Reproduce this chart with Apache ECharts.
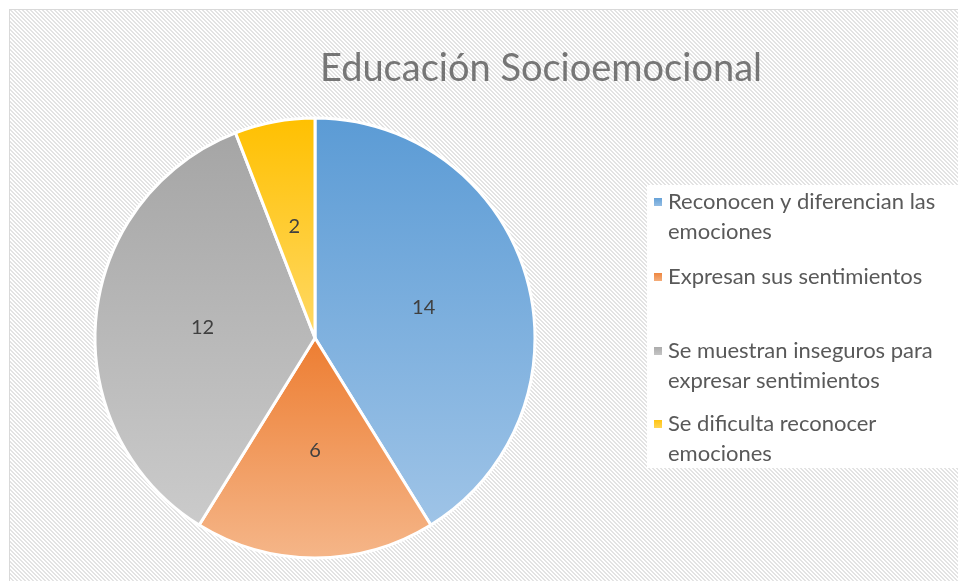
<!DOCTYPE html>
<html>
<head>
<meta charset="utf-8">
<script src="https://cdn.jsdelivr.net/npm/echarts@6/dist/echarts.min.js"></script>
<style>
  body{margin:0;background:#fff;}
  .hatch{position:absolute;left:9px;top:9px;width:960px;height:580px;border:1px solid #d9d9d9;}
  .legendBox{position:absolute;left:647px;top:185px;width:320px;height:283px;background:#fff;}
  #main{position:absolute;left:0;top:0;width:958px;height:581px;}
</style>
</head>
<body>
<div class="hatch" id="hatch"></div>
<div class="legendBox"></div>
<div id="main"></div>
<script>
// datos del gráfico
const titulo = 'Educación Socioemocional'
const categorias = [
  'Reconocen y diferencian las emociones',
  'Expresan sus sentimientos',
  'Se muestran inseguros para expresar sentimientos',
  'Se dificulta reconocer emociones'
]
const etiquetasLeyenda = [
  'Reconocen y diferencian las\nemociones',
  'Expresan sus sentimientos',
  'Se muestran inseguros para\nexpresar sentimientos',
  'Se dificulta reconocer\nemociones'
]
const valores = [14, 6, 12, 2]

// colores (arriba, abajo) de cada degradado
const colores = [
  ['#5b9bd5', '#9fc4e7'],
  ['#ed7d31', '#f5b689'],
  ['#a5a5a5', '#cbcbcb'],
  ['#ffc000', '#ffd966']
]
const leyendaCentroY = [202, 277, 351, 424]

const fuente = 'Lato'
const lineH = 30

// fondo rayado (diagonal)
let tile = document.createElement('canvas')
tile.width = 4
tile.height = 4
let ctx = tile.getContext('2d')
ctx.fillStyle = '#ffffff'
ctx.fillRect(0, 0, 4, 4)
ctx.fillStyle = '#e3e3e3'
for (let y = 0; y < 4; y++) {
  for (let x = 0; x < 4; x++) {
    if (((x - y) % 4 + 4) % 4 < 2) ctx.fillRect(x, y, 1, 1)
  }
}
document.getElementById('hatch').style.background = 'url(' + tile.toDataURL() + ')'

let myChart = echarts.init(document.getElementById('main'))

let datos = []
for (const k in valores) {
  datos.push({
    name: categorias[k],
    value: valores[k],
    itemStyle: {
      color: new echarts.graphic.LinearGradient(0, 0, 0, 1, [
        {offset: 0, color: colores[k][0]},
        {offset: 1, color: colores[k][1]}
      ])
    }
  })
}

let leyendas = []
for (const k in categorias) {
  const dosLineas = etiquetasLeyenda[k].indexOf('\n') >= 0
  const alto = dosLineas ? lineH * 3 : lineH
  leyendas.push({
    data: [categorias[k]],
    left: 652,
    top: leyendaCentroY[k] - alto / 2,
    padding: 0,
    icon: 'rect',
    itemWidth: 10,
    itemHeight: 10,
    selectedMode: false,
    // linea vacia arriba para que el icono quede en la primera linea
    formatter: () => dosLineas ? '\n' + etiquetasLeyenda[k] : etiquetasLeyenda[k],
    textStyle: {
      fontFamily: fuente,
      fontSize: 22,
      color: '#595959',
      lineHeight: lineH
    }
  })
}

let option = {
  animation: false,
  backgroundColor: 'transparent',
  title: {
    text: titulo,
    left: 315,
    top: 45,
    textStyle: {
      fontFamily: fuente,
      fontSize: 38,
      fontWeight: 'normal',
      color: '#767676'
    }
  },
  legend: leyendas,
  series: [
    {
      type: 'pie',
      center: [315, 338],
      radius: 220,
      startAngle: 90,
      clockwise: true,
      data: datos,
      itemStyle: {
        borderColor: '#ffffff',
        borderWidth: 3
      },
      label: {
        show: true,
        position: 'inside',
        formatter: '{c}',
        fontFamily: fuente,
        fontSize: 20,
        color: '#404040'
      },
      labelLine: {show: false},
      emphasis: {disabled: true}
    }
  ]
}
myChart.setOption(option)
</script>
</body>
</html>
